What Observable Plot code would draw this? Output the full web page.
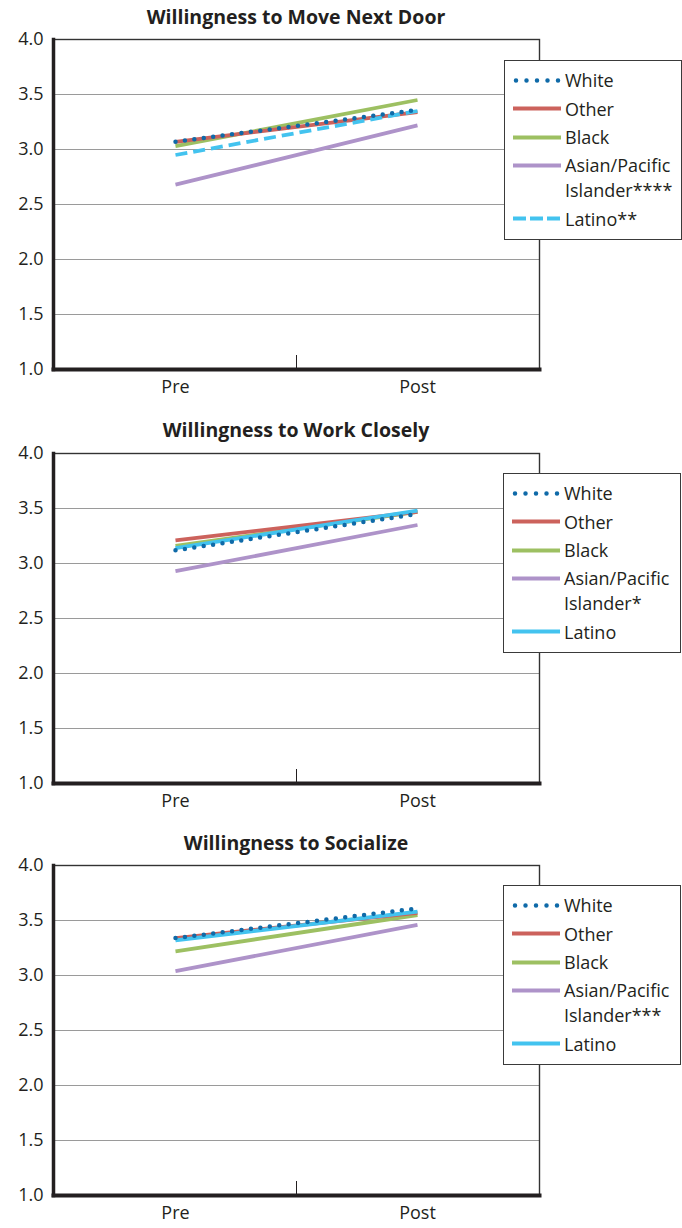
<!DOCTYPE html>
<html>
<head>
<meta charset="utf-8">
<script src="https://cdn.jsdelivr.net/npm/d3@7"></script>
<script src="https://cdn.jsdelivr.net/npm/@observablehq/plot@0.6"></script>
<style>
  html, body { margin: 0; padding: 0; background: #fff; }
  #root { position: relative; width: 682px; height: 1228px; font-family: "Open Sans", sans-serif; color: #231f20; }
  .panel { position: absolute; left: 0; width: 682px; }
  .title { position: absolute; left: 0; width: 592px; text-align: center; font-weight: 700; font-size: 19.5px; line-height: 24px; }
  .legend { position: absolute; width: 178px; height: 180px; border: 1px solid #3a3a3a; background: #fff; box-sizing: border-box; font-size: 18px; }
  .ltext { position: absolute; left: 60px; line-height: 24px; height: 24px; white-space: nowrap; }
  .legend svg { position: absolute; left: 8px; }
</style>
</head>
<body>
<div id="root"></div>
<script>
// ---- Data ----
const groups = ["White", "Other", "Black", "Asian/Pacific Islander", "Latino"];
const periods = ["Pre", "Post"];
const yTicks = [1.0, 1.5, 2.0, 2.5, 3.0, 3.5, 4.0];

const titles = ["Willingness to Move Next Door", "Willingness to Work Closely", "Willingness to Socialize"];

const moveNextDoorPre  = [3.07, 3.07, 3.03, 2.68, 2.95];
const moveNextDoorPost = [3.36, 3.34, 3.45, 3.22, 3.35];
const workClosePre     = [3.12, 3.21, 3.16, 2.93, 3.14];
const workClosePost    = [3.45, 3.47, 3.47, 3.35, 3.48];
const socializePre     = [3.34, 3.34, 3.22, 3.04, 3.32];
const socializePost    = [3.61, 3.57, 3.55, 3.46, 3.58];

const legendLabels1 = [["White"], ["Other"], ["Black"], ["Asian/Pacific", "Islander****"], ["Latino**"]];
const legendLabels2 = [["White"], ["Other"], ["Black"], ["Asian/Pacific", "Islander*"], ["Latino"]];
const legendLabels3 = [["White"], ["Other"], ["Black"], ["Asian/Pacific", "Islander***"], ["Latino"]];

// ---- Styles ----
const colors = {"White": "#0f6aa8", "Other": "#cc625c", "Black": "#9dc062", "Asian/Pacific Islander": "#ae93c9", "Latino": "#43c3ef"};
const drawOrder = ["Asian/Pacific Islander", "Black", "Other", "Latino", "White"];
const MID = "mid";
// vertical centre of each legend text line inside the box (px)
const legendLineCentres = [[20], [48.5], [77], [105, 129.5], [158.5]];

const panels = [
  {title: titles[0], pre: moveNextDoorPre, post: moveNextDoorPost, labels: legendLabels1, latinoDashed: true, top: 29, titleTop: 5, legendTop: 60, legendLeft: 504},
  {title: titles[1], pre: workClosePre, post: workClosePost, labels: legendLabels2, latinoDashed: false, top: 443, titleTop: 418, legendTop: 473, legendLeft: 503},
  {title: titles[2], pre: socializePre, post: socializePost, labels: legendLabels3, latinoDashed: false, top: 855, titleTop: 831, legendTop: 885, legendLeft: 503}
];

function lineStyle(g, dashed) {
  if (g === "White") return {strokeWidth: 4.5, strokeDasharray: "0 9.5", strokeLinecap: "round"};
  if (g === "Latino" && dashed) return {strokeWidth: 3.8, strokeDasharray: "12 6", strokeLinecap: "butt"};
  return {strokeWidth: 3.8, strokeLinecap: "butt"};
}

const root = document.getElementById("root");

panels.forEach(p => {
  const rows = [];
  groups.forEach((g, i) => {
    rows.push({group: g, period: periods[0], value: p.pre[i]});
    rows.push({group: g, period: periods[1], value: p.post[i]});
  });

  const lineMarks = drawOrder.map(g => {
    const st = lineStyle(g, p.latinoDashed);
    return Plot.line(rows.filter(r => r.group === g), {
      x: "period", y: "value", stroke: colors[g], ...st
    });
  });

  const chart = Plot.plot({
    width: 682,
    height: 370,
    marginLeft: 53,
    marginRight: 143,
    marginTop: 10,
    marginBottom: 30,
    style: {fontFamily: "'Open Sans', sans-serif", fontSize: "18px", color: "#231f20", background: "transparent", overflow: "visible"},
    x: {type: "point", domain: [periods[0], MID, periods[1]], padding: 1},
    y: {domain: [1, 4]},
    marks: [
      Plot.ruleY(yTicks.filter(t => t > 1 && t < 4), {stroke: "#9a9a9a", strokeWidth: 1.2}),
      Plot.frame({stroke: "#333", strokeWidth: 1.4}),
      Plot.axisY({ticks: yTicks, tickFormat: d3.format(".1f"), tickSize: 0, tickPadding: 10, label: null, fontSize: 18}),
      Plot.axisX({ticks: periods, tickSize: 0, tickPadding: 11, label: null, fontSize: 18}),
      Plot.axisX({ticks: [MID], tickSize: -14, tickFormat: () => "", label: null, stroke: "#231f20"}),
      ...lineMarks,
      Plot.frame({anchor: "left", stroke: "#231f20", strokeWidth: 3.5}),
      Plot.frame({anchor: "bottom", stroke: "#231f20", strokeWidth: 4})
    ]
  });

  const panel = document.createElement("div");
  panel.className = "panel";
  panel.style.top = p.top + "px";
  panel.appendChild(chart);
  root.appendChild(panel);

  const title = document.createElement("div");
  title.className = "title";
  title.style.top = p.titleTop + "px";
  title.textContent = p.title;
  root.appendChild(title);

  // legend
  const legend = document.createElement("div");
  legend.className = "legend";
  legend.style.top = p.legendTop + "px";
  legend.style.left = p.legendLeft + "px";
  groups.forEach((g, i) => {
    const centres = legendLineCentres[i];
    const st = lineStyle(g, p.latinoDashed);
    const svg = d3.create("svg").attr("width", 50).attr("height", 21)
      .style("top", (centres[0] - 1 - 10.5) + "px");
    const line = svg.append("line")
      .attr("x1", g === "White" ? 3 : 0).attr("x2", 48).attr("y1", 10.5).attr("y2", 10.5)
      .attr("stroke", colors[g])
      .attr("stroke-width", st.strokeWidth)
      .attr("stroke-linecap", st.strokeLinecap);
    if (st.strokeDasharray) line.attr("stroke-dasharray", g === "White" ? "0 10.5" : "13 4");
    legend.appendChild(svg.node());
    p.labels[i].forEach((txt, j) => {
      const d = document.createElement("div");
      d.className = "ltext";
      d.style.top = (centres[j] - 1 - 12) + "px";
      d.textContent = txt;
      legend.appendChild(d);
    });
  });
  root.appendChild(legend);
});
</script>
</body>
</html>
